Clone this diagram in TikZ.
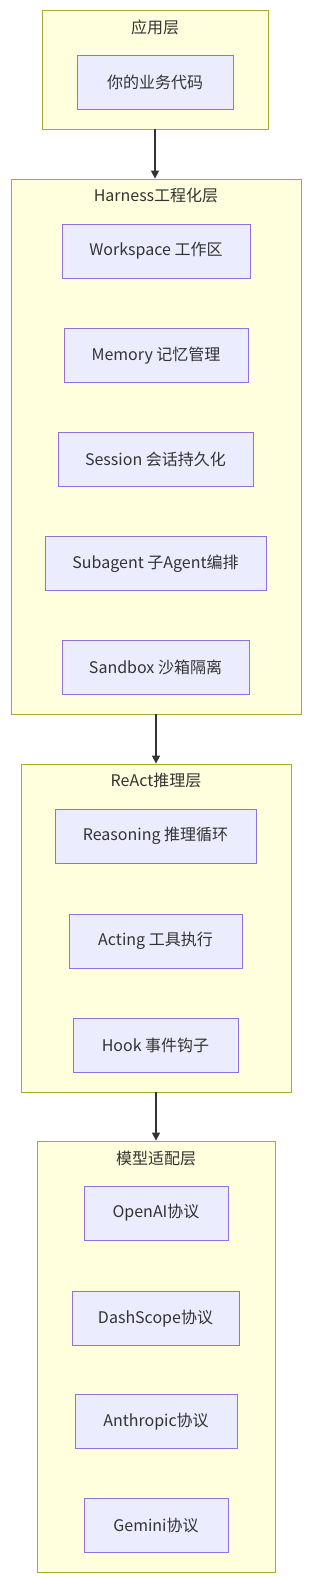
\documentclass[tikz,border=0pt]{standalone}
\usepackage{fontspec}
\setmainfont{Noto Sans CJK SC}
\usepackage{tikz}
\usetikzlibrary{arrows.meta,positioning}
\definecolor{layerfill}{HTML}{FFFFDE}
\definecolor{layerdraw}{HTML}{AAAA33}
\definecolor{boxfill}{HTML}{ECECFF}
\definecolor{boxdraw}{HTML}{9370DB}
\definecolor{txt}{HTML}{333333}

\begin{document}
\begin{tikzpicture}[
        x=1pt, y=-1pt,
        layer/.style={rectangle, draw=layerdraw, fill=layerfill, line width=0.8pt, inner sep=0pt},
        title/.style={text=txt, font=\fontsize{16}{18}\selectfont, inner sep=0pt},
        box/.style={rectangle, draw=boxdraw, fill=boxfill, line width=0.8pt, minimum height=54pt, text=txt, font=\fontsize{16}{18}\selectfont},
        arrow/.style={-{Triangle[length=8pt,width=8pt]}, line width=1.4pt, txt}
    ]
    \useasboundingbox (0,0) rectangle (310,1582);
    % layers
    \node[layer, minimum width=226pt, minimum height=119pt] (app) at (155,69.5) {};
    \node[layer, minimum width=290pt, minimum height=535pt] (harness) at (156,446.5) {};
    \node[layer, minimum width=270pt, minimum height=328pt] (react) at (156,928) {};
    \node[layer, minimum width=238pt, minimum height=431pt] (model) at (156,1356.5) {};
    \node[title] (appt) at (155,27) {应用层};
    \node[title] (harnesst) at (156,195) {Harness工程化层};
    \node[title] (reactt) at (156,780) {ReAct推理层};
    \node[title] (modelt) at (156,1158) {模型适配层};
    % boxes
    \node[box, minimum width=156pt] (code) at (155,82) {你的业务代码};
    \node[box, minimum width=188pt] (workspace) at (156,251) {Workspace 工作区};
    \node[box, minimum width=184pt] (memory) at (156,355.5) {Memory 记忆管理};
    \node[box, minimum width=195pt] (session) at (155.5,459.5) {Session 会话持久化};
    \node[box, minimum width=221pt] (subagent) at (155.5,563.5) {Subagent 子Agent编排};
    \node[box, minimum width=187pt] (sandbox) at (155.5,667.5) {Sandbox 沙箱隔离};
    \node[box, minimum width=201pt] (reasoning) at (155.5,836) {Reasoning 推理循环};
    \node[box, minimum width=173pt] (acting) at (155.5,941) {Acting 工具执行};
    \node[box, minimum width=165pt] (hook) at (155.5,1045) {Hook 事件钩子};
    \node[box, minimum width=144pt] (openai) at (156,1213) {OpenAI协议};
    \node[box, minimum width=167pt] (dashscope) at (155.5,1318.5) {DashScope协议};
    \node[box, minimum width=162pt] (anthropic) at (156,1421.5) {Anthropic协议};
    \node[box, minimum width=144pt] (gemini) at (156,1525) {Gemini协议};
    % flow
    \draw[arrow] (app.south) -- (app.south |- harness.north);
    \draw[arrow] (harness.south) -- (react.north);
    \draw[arrow] (react.south) -- (model.north);
\end{tikzpicture}
\end{document}
